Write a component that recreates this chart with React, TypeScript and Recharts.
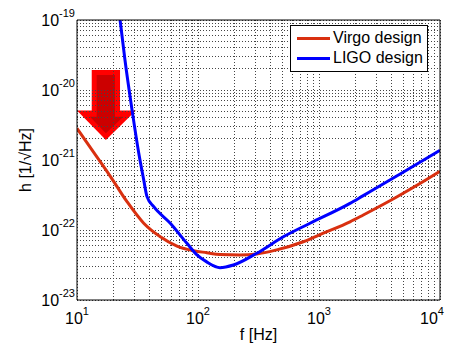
import React from 'react';
import { LineChart, Line, XAxis, YAxis, ReferenceLine, ReferenceArea, Legend } from 'recharts';

// frequency [Hz] and strain [1/sqrt(Hz)]
const virgoF = [10, 13.7, 18.8, 25.9, 35.6, 48.8, 67, 92, 118, 152, 222, 306, 447, 741, 1085, 1803, 2323, 4385, 9400, 10000];
const virgoH = [2.84e-21, 1.3e-21, 5.9e-22, 2.54e-22, 1.25e-22, 8.0e-23, 5.9e-23, 5.06e-23, 4.74e-23, 4.45e-23, 4.4e-23, 4.54e-23, 5.2e-23, 6.8e-23, 9.0e-23, 1.31e-22, 1.64e-22, 2.96e-22, 6.45e-22, 6.9e-22];

const ligoF = [22.7, 24.9, 28.5, 32.4, 35.6, 37.9, 43.1, 59, 81, 98, 118, 152, 196, 306, 507, 843, 1803, 2323, 4385, 9100, 10000];
const ligoH = [1e-19, 2.7e-20, 5.2e-21, 1.25e-21, 5.2e-22, 3.0e-22, 2.15e-22, 1.25e-22, 6.45e-23, 4.4e-23, 3.5e-23, 2.9e-23, 3.16e-23, 4.65e-23, 8.0e-23, 1.25e-22, 2.4e-22, 3.1e-22, 5.9e-22, 1.25e-21, 1.38e-21];

const seriesNames = ['Virgo design', 'LIGO design'];

const xTicks = [10, 100, 1000, 10000];
const yTicks = [1e-23, 1e-22, 1e-21, 1e-20, 1e-19];
const mantissas = [1, 2, 3, 4, 5, 6, 7, 8, 9];
const xGrid = [1, 2, 3].flatMap(d => mantissas.map(m => m * 10 ** d)).concat(1e4);
const yGrid = [-23, -22, -21, -20].flatMap(e => mantissas.map(m => m * 10 ** e)).concat(1e-19);

// red arrow box, in data units
const arrowF = [10, 30.7];
const arrowH = [1.93e-21, 1.93e-20];

const virgoData = virgoF.map((f, i) => ({ f, h: virgoH[i] }));
const ligoData = ligoF.map((f, i) => ({ f, h: ligoH[i] }));

const FONT = '"Liberation Sans", Arial, sans-serif';

const exp10 = (v: number) => Math.round(Math.log10(v));

const XTick = ({ x, y, payload }: any) => (
    <text x={x} y={y + 24} textAnchor="middle" fontFamily={FONT} fontSize={16} fill="#000">
        <tspan>10</tspan>
        <tspan dy={-9} fontSize={11}>{exp10(payload.value)}</tspan>
    </text>
);

const YTick = ({ x, y, payload }: any) => (
    <text x={x - 2} y={y + 6} textAnchor="end" fontFamily={FONT} fontSize={16} fill="#000">
        <tspan>10</tspan>
        <tspan dy={-9} fontSize={11}>{exp10(payload.value)}</tspan>
    </text>
);

const ArrowShape = ({ x, y, width, height }: any) => {
    const p = (pts: number[][]) => pts.map(([a, b]) => `${x + a * width},${y + b * height}`).join(' ');
    const outer = [[0.25, 0], [0.73, 0], [0.73, 0.58], [1, 0.58], [0.49, 1], [0, 0.58], [0.25, 0.58]];
    const inner = [[0.334, 0.071], [0.644, 0.071], [0.644, 0.667], [0.785, 0.667], [0.49, 0.904], [0.22, 0.667], [0.334, 0.667]];
    return (
        <g>
            <polygon points={p(outer)} fill="#FF0000" />
            <polygon points={p(inner)} fill="#CC0000" />
        </g>
    );
};

const LegendBox = ({ payload }: any) => {
    const items = [...(payload || [])].sort((a: any, b: any) => seriesNames.indexOf(a.value) - seriesNames.indexOf(b.value));
    return (
        <div style={{ border: '1px solid #000', background: '#fff', width: 138, height: 47, boxSizing: 'border-box', padding: '2px 0 0 6px' }}>
            {items.map((p: any) => (
                <div key={p.value} style={{ display: 'flex', alignItems: 'center', height: 20 }}>
                    <span style={{ display: 'inline-block', width: 33, height: 3, background: p.color, marginRight: 3 }} />
                    <span style={{ fontFamily: FONT, fontSize: 16, color: '#000', lineHeight: '20px' }}>{p.value}</span>
                </div>
            ))}
        </div>
    );
};

const App: React.FC = () => {
    return (
        <div style={{ position: 'absolute', left: 0, top: 0, background: '#fff' }}>
            <LineChart width={452} height={345} margin={{ top: 20, right: 12, left: 0, bottom: 0 }}>
                <XAxis
                    dataKey="f"
                    type="number"
                    scale="log"
                    domain={[10, 10000]}
                    allowDataOverflow
                    ticks={xTicks}
                    tick={<XTick />}
                    tickLine={false}
                    tickSize={0}
                    tickMargin={0}
                    height={45}
                    axisLine={{ stroke: '#000' }}
                    label={({ viewBox }: any) => (
                        <text x={viewBox.x + viewBox.width / 2} y={viewBox.y + 40} textAnchor="middle" fontFamily={FONT} fontSize={16} fill="#000">
                            f [Hz]
                        </text>
                    )}
                />
                <YAxis
                    dataKey="h"
                    type="number"
                    scale="log"
                    domain={[1e-23, 1e-19]}
                    allowDataOverflow
                    ticks={yTicks}
                    tick={<YTick />}
                    tickLine={false}
                    tickSize={0}
                    tickMargin={0}
                    width={77}
                    axisLine={{ stroke: '#000' }}
                    label={({ viewBox }: any) => {
                        const cx = viewBox.x + 25;
                        const cy = viewBox.y + viewBox.height / 2;
                        return (
                            <text x={cx} y={cy} transform={`rotate(-90 ${cx} ${cy})`} textAnchor="middle" dominantBaseline="central" fontFamily={FONT} fontSize={16} fill="#000">
                                h [1/√Hz]
                            </text>
                        );
                    }}
                />
                {xGrid.map(v => (
                    <ReferenceLine key={`gx${v}`} x={v} stroke="#444" strokeDasharray="1 2" ifOverflow="visible" shapeRendering="crispEdges" />
                ))}
                {yGrid.map(v => (
                    <ReferenceLine key={`gy${v}`} y={v} stroke="#444" strokeDasharray="1 2" ifOverflow="visible" shapeRendering="crispEdges" />
                ))}
                <ReferenceArea x1={arrowF[0]} x2={arrowF[1]} y1={arrowH[0]} y2={arrowH[1]} shape={<ArrowShape />} ifOverflow="visible" />
                <Line data={virgoData} dataKey="h" name={seriesNames[0]} type="monotone" stroke="#D93010" strokeWidth={3} dot={false} isAnimationActive={false} />
                <Line data={ligoData} dataKey="h" name={seriesNames[1]} type="monotone" stroke="#0000FF" strokeWidth={3} dot={false} isAnimationActive={false} />
                <ReferenceLine y={1e-19} stroke="#000" ifOverflow="visible" />
                <ReferenceLine x={1e4} stroke="#000" ifOverflow="visible" />
                <Legend
                    layout="vertical"
                    align="center"
                    verticalAlign="middle"
                    content={<LegendBox />}
                    wrapperStyle={{ left: 290, top: 25, width: 138 }}
                />
            </LineChart>
        </div>
    );
};

export default App;
